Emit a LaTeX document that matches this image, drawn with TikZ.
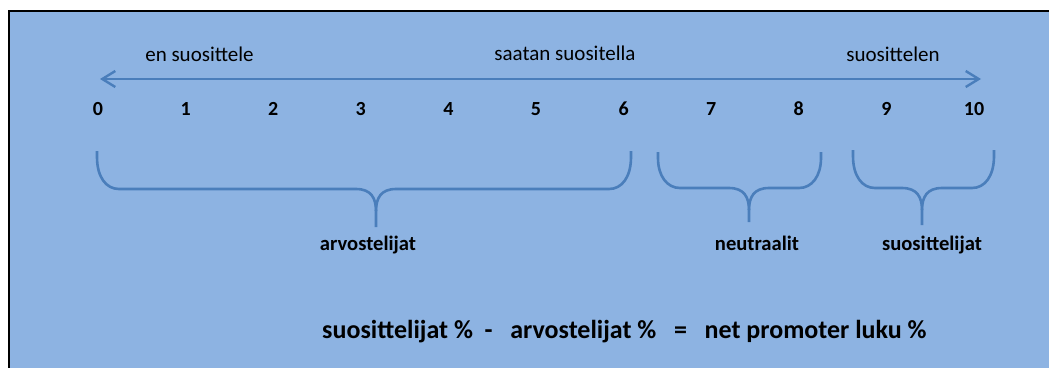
\documentclass[tikz,border=0pt]{standalone}
\usepackage{fontspec}
\setmainfont{Carlito}
\usetikzlibrary{arrows.meta}
\definecolor{bgblue}{RGB}{141,179,226}
\definecolor{lineblue}{RGB}{74,126,187}
\tikzset{
  toplabel/.style={anchor=base,inner sep=0pt,font=\fontsize{21}{24}\selectfont},
  numlabel/.style={anchor=base,inner sep=0pt,font=\fontsize{20}{24}\selectfont\bfseries},
  grouplabel/.style={anchor=base,inner sep=0pt,font=\fontsize{20.6}{24}\selectfont\bfseries},
  formula/.style={anchor=base west,inner sep=0pt,font=\fontsize{26}{30}\selectfont\bfseries},
  axisline/.style={draw=lineblue,line width=2.6pt,{Straight Barb[length=13pt,width=16pt,line width=2.4pt]}-{Straight Barb[length=13pt,width=16pt,line width=2.4pt]}},
  bracestyle/.style={draw=lineblue,line width=2.6pt,line cap=butt}
}
% brace: left x, middle x, right x, top y, line y, bottom y
\newcommand{\npsbrace}[6]{%
  \draw[bracestyle] (#1,#4) -- (#1,#4+6) .. controls (#1,#5-12) and (#1+9,#5) .. (#1+22,#5)
    -- (#2-20,#5) .. controls (#2-5,#5) and (#2,#5+9) .. (#2,#5+22) -- (#2,#6);
  \draw[bracestyle] (#3,#4) -- (#3,#4+6) .. controls (#3,#5-12) and (#3-9,#5) .. (#3-22,#5)
    -- (#2+20,#5) .. controls (#2+5,#5) and (#2,#5+9) .. (#2,#5+22);
}
\begin{document}
\begin{tikzpicture}[x=1pt,y=-1pt]
\useasboundingbox (0,0) rectangle (1049,367);
\fill[bgblue] (9,11) rectangle (1070,380);
\draw[line width=2.4pt] (9,390) -- (9,11) -- (1070,11);

% top labels
\node[toplabel] (tl1) at (199.5,61) {en suosittele};
\node[toplabel] (tl2) at (565,60.5) {saatan suositella};
\node[toplabel] (tl3) at (893,61) {suosittelen};

% axis
\coordinate (aL) at (100,79);
\coordinate (aR) at (981,79);
\draw[axisline] (aL) -- (aR);

% numbers
\foreach \i in {0,...,10}{
  \node[numlabel] (n\i) at (98+87.6*\i,115.5) {\i};
}

% braces
\npsbrace{97}{376}{631}{151}{189}{227}
\npsbrace{658}{749}{821}{152}{188}{222}
\npsbrace{853}{922}{994}{150}{188}{225}

% group labels
\node[grouplabel] (g1) at (368,250) {arvostelijat};
\node[grouplabel] (g2) at (757,250) {neutraalit};
\node[grouplabel] (g3) at (932,250) {suosittelijat};

% formula
\node[formula] (f) at (322,338) {suosittelijat~\%~~-~~~arvostelijat~\%~~~=~~~net promoter luku~\%};
\end{tikzpicture}
\end{document}
